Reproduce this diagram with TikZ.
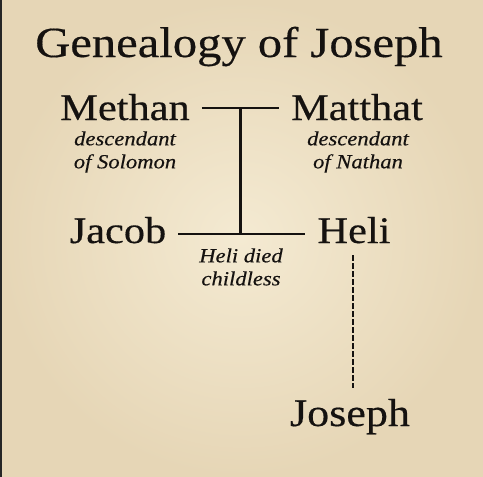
\documentclass[tikz,border=0pt]{standalone}
\usepackage{fontspec}
\setmainfont{Liberation Serif}[FakeStretch=1.13,FakeBold=0.35]
\usetikzlibrary{calc}
\definecolor{paperin}{HTML}{F4EAD2}
\definecolor{paperout}{HTML}{E6D6B6}
\definecolor{ink}{HTML}{151210}
\begin{document}
\begin{tikzpicture}[x=1pt,y=-1pt,
  titletext/.style={anchor=base,inner sep=0pt,font=\fontsize{43}{46}\selectfont,text=ink},
  person/.style={anchor=base,inner xsep=12pt,inner ysep=12pt,text height=24pt,text depth=0pt,font=\fontsize{37.5}{40}\selectfont,text=ink},
  note/.style={align=center,inner sep=0pt,font=\fontsize{20}{23}\selectfont\itshape,text=ink},
  link/.style={draw=ink,line width=2.4pt},
  dashlink/.style={draw=ink,line width=1.5pt,dash pattern=on 5.5pt off 2.5pt}]
\useasboundingbox (0,0) rectangle (483,477);
\shade[inner color=paperin,outer color=paperout] (0,0) rectangle (483,477);
\fill[black!85] (0,0) rectangle (1.6,477);
\node[titletext] (title) at (239,57) {Genealogy of Joseph};
\node[person] (methan) at (125,120) {Methan};
\node[person] (matthat) at (357,120) {Matthat};
\node[note] (descS) at (125,152) {descendant\\of Solomon};
\node[note] (descN) at (358,152) {descendant\\of Nathan};
\node[person] (jacob) at (118,243) {Jacob};
\node[person] (heli) at (354,243) {Heli};
\node[note] (died) at (241,267) {Heli died\\childless};
\node[person,font=\fontsize{39}{42}\selectfont,text height=26pt] (joseph) at (350,426) {Joseph};
\coordinate (jl) at ([yshift=-3pt]jacob.east);
\coordinate (hl) at ([yshift=-3pt]heli.west);
\draw[link] (methan.east) -- (matthat.west);
\draw[link] (jl) -- (hl);
\coordinate (tj) at ($(methan.east)!0.5!(matthat.west)$);
\coordinate (bj) at (tj |- jl);
\draw[link] (tj) -- (bj);
\draw[dashlink] ([xshift=-1pt]heli.south) -- ([xshift=-1pt]heli.south |- joseph.north);
\end{tikzpicture}
\end{document}
